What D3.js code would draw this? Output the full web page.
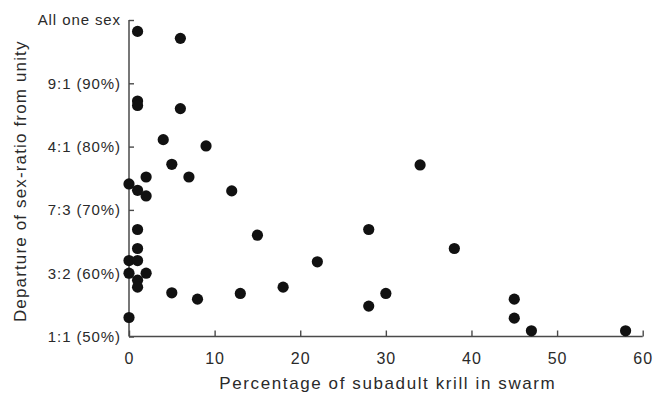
<!DOCTYPE html>
<html>
<head>
<meta charset="utf-8">
<script src="https://cdn.jsdelivr.net/npm/d3@7"></script>
<style>
  html, body { margin: 0; padding: 0; background: #fff; }
  svg text { font-family: "Liberation Sans", Arial, sans-serif; fill: #2a2a2a; }
</style>
</head>
<body>
<svg id="chart" width="662" height="398"></svg>
<script>
// Percentage of subadult krill in swarm
const subadultPct = [1, 6, 1, 1, 6, 4, 9, 5, 2, 7, 0, 1, 2, 12, 34,
  1, 1, 0, 1, 0, 2, 1, 1, 5, 8, 13, 18, 15, 28, 38, 22, 30, 28, 45, 45, 47, 58, 0];
// Sex ratio expressed as % of the majority sex
const sexRatioPct = [98.2, 97.1, 87.2, 86.5, 86.0, 81.1, 80.1, 77.2, 75.2, 75.2, 74.1, 73.1, 72.2, 73.0, 77.1,
  66.9, 63.9, 62.0, 62.0, 60.0, 60.0, 58.9, 57.8, 56.9, 55.9, 56.8, 57.8, 66.0, 66.9, 63.9, 61.8, 56.8, 54.8, 55.9, 52.9, 50.9, 50.9, 53.0];

const yTickValues = [50, 60, 70, 80, 90, 100];
const yTickLabels = ["1:1 (50%)", "3:2 (60%)", "7:3 (70%)", "4:1 (80%)", "9:1 (90%)", "All one sex"];
const xTickValues = [0, 10, 20, 30, 40, 50, 60];

const xTitle = "Percentage of subadult krill in swarm";
const yTitle = "Departure of sex-ratio from unity";

const W = 662, H = 398;
const margin = { left: 129, right: 19.3, top: 20, bottom: 61.5 };
const svg = d3.select("#chart");

const x = d3.scaleLinear().domain([0, 60]).range([margin.left, W - margin.right]);
const y = d3.scaleLinear().domain([50, 100]).range([H - margin.bottom, margin.top]);

const axisColor = "#4a4a4a";

// Y axis
const yAxis = d3.axisLeft(y)
  .tickValues(yTickValues)
  .tickFormat((d, i) => yTickLabels[i])
  .tickSize(-5)
  .tickPadding(8);
const gy = svg.append("g").attr("transform", `translate(${margin.left},0)`).call(yAxis);
gy.select(".domain").remove();
gy.selectAll(".tick line").attr("stroke", axisColor).attr("stroke-width", 1.4);
gy.selectAll(".tick text")
  .style("font-size", "15px")
  .style("letter-spacing", "0.9px")
  .attr("fill", "#2a2a2a");

// X axis
const xAxis = d3.axisBottom(x)
  .tickValues(xTickValues)
  .tickFormat(d3.format("d"))
  .tickSize(-6)
  .tickPadding(16);
const gx = svg.append("g").attr("transform", `translate(0,${H - margin.bottom})`).call(xAxis);
gx.select(".domain").remove();
gx.selectAll(".tick line").attr("stroke", axisColor).attr("stroke-width", 1.4);
gx.selectAll(".tick text")
  .style("font-size", "16px")
  .style("letter-spacing", "1px")
  .attr("fill", "#2a2a2a");

// Axis lines
svg.append("line")
  .attr("x1", x(0)).attr("x2", x(0))
  .attr("y1", y(100)).attr("y2", y(50))
  .attr("stroke", axisColor).attr("stroke-width", 1.5);
svg.append("line")
  .attr("x1", x(0)).attr("x2", x(60))
  .attr("y1", y(50)).attr("y2", y(50))
  .attr("stroke", axisColor).attr("stroke-width", 1.5);

// Titles
svg.append("text")
  .attr("x", (x(0) + x(60)) / 2 + 2)
  .attr("y", 389)
  .attr("text-anchor", "middle")
  .style("font-size", "17px")
  .style("letter-spacing", "1.6px")
  .text(xTitle);

svg.append("text")
  .attr("transform", `translate(26,${(y(100) + y(50)) / 2 + 3}) rotate(-90)`)
  .attr("text-anchor", "middle")
  .style("font-size", "17px")
  .style("letter-spacing", "1.15px")
  .text(yTitle);

// Points
svg.append("g")
  .selectAll("circle")
  .data(subadultPct.map((v, i) => [v, sexRatioPct[i]]))
  .join("circle")
  .attr("cx", d => x(d[0]))
  .attr("cy", d => y(d[1]))
  .attr("r", 5.6)
  .attr("fill", "#111");
</script>
</body>
</html>
